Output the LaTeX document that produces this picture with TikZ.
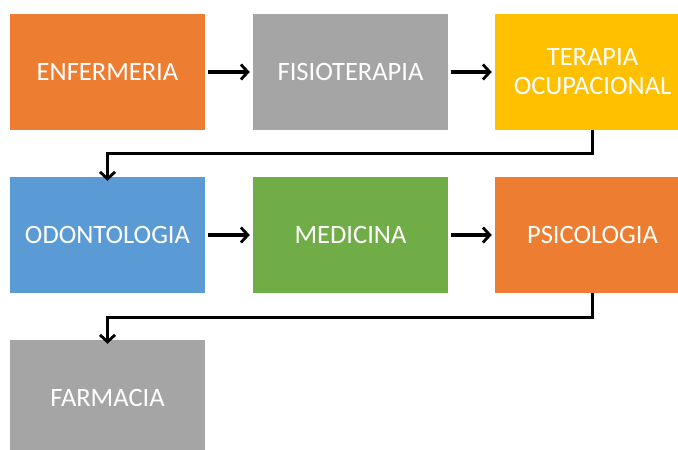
\documentclass[tikz,border=0pt]{standalone}
\usepackage{fontspec}
\setmainfont{Carlito}
\usetikzlibrary{arrows.meta}
\definecolor{corange}{HTML}{ED7D31}
\definecolor{cgray}{HTML}{A5A5A5}
\definecolor{cgold}{HTML}{FFC000}
\definecolor{cblue}{HTML}{5B9BD5}
\definecolor{cgreen}{HTML}{70AD47}
\tikzset{
  box/.style={rectangle, minimum width=195pt, minimum height=116pt, inner sep=0pt, text=white, font=\fontsize{26.5}{29}\selectfont, align=center},
  conn/.style={line width=3.2pt, -{Straight Barb[length=7pt,width=15pt,line width=2.8pt]}},
}
\begin{document}
\begin{tikzpicture}[x=1pt,y=-1pt]
\useasboundingbox (0,0) rectangle (678,450);
\begin{scope}
\clip (0,0) rectangle (678,450);
\node[box, fill=corange] (enf) at (107.5,72) {ENFERMERIA};
\node[box, fill=cgray] (fis) at (350.5,72) {FISIOTERAPIA};
\node[box, fill=cgold] (ter) at (592.5,72) {TERAPIA\\OCUPACIONAL};
\node[box, fill=cblue] (odo) at (107.5,235) {ODONTOLOGIA};
\node[box, fill=cgreen] (med) at (350.5,235) {MEDICINA};
\node[box, fill=corange] (psi) at (592.5,235) {PSICOLOGIA};
\node[box, fill=cgray] (far) at (107.5,398) {FARMACIA};
\end{scope}
\draw[conn] ([xshift=3pt]enf.east) -- ([xshift=-3pt]fis.west);
\draw[conn] ([xshift=3pt]fis.east) -- ([xshift=-3pt]ter.west);
\draw[conn] ([xshift=3pt]odo.east) -- ([xshift=-3pt]med.west);
\draw[conn] ([xshift=3pt]med.east) -- ([xshift=-3pt]psi.west);
\draw[conn] (ter.south) -- ++(0,23) -| ([yshift=-4pt]odo.north);
\draw[conn] (psi.south) -- ++(0,24) -| ([yshift=-4pt]far.north);
\end{tikzpicture}
\end{document}
